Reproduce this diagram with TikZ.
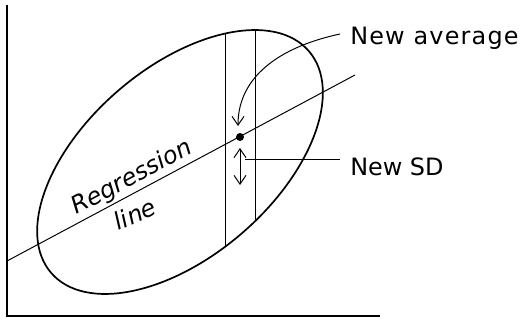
\documentclass[tikz,border=0pt]{standalone}
\usepackage{fontspec}
\setmainfont{DejaVu Sans}
\usetikzlibrary{arrows.meta}
\tikzset{
  handtext/.style={font=\fontsize{17}{20}\selectfont, inner sep=0pt},
  barb/.style={-{Straight Barb[length=2.2mm,width=3mm]}},
  twobarb/.style={{Straight Barb[length=2.2mm,width=3mm]}-{Straight Barb[length=2.2mm,width=3mm]}},
}
\begin{document}
\begin{tikzpicture}
  \useasboundingbox (0,0) rectangle (13.175,8.05);
  % axes
  \draw[line width=0.9pt] (0.175,7.925) -- (0.175,0.15) -- (9.5,0.15);
  % scatter cloud
  \draw[line width=1.2pt, rotate around={40.7:(4.5,4)}] (4.5,4) ellipse (4.25 and 2.36);
  \begin{scope}
    \clip[rotate around={40.7:(4.5,4)}] (4.5,4) ellipse (4.25 and 2.36);
    \draw[line width=0.6pt] (5.625,0) -- (5.625,8);
    \draw[line width=0.6pt] (6.375,0) -- (6.375,8);
  \end{scope}
  % regression line
  \draw[line width=0.7pt] (0.175,1.525) -- (8.875,6.175);
  \node[handtext, rotate=28, font=\fontsize{17}{20}\selectfont\itshape] (regword) at (3.3,3.6) {Regression};
  \node[handtext, rotate=24, font=\fontsize{17}{20}\selectfont\itshape] (lineword) at (3.375,2.7) {line};
  % new average and new SD
  \node[circle, fill, inner sep=0pt, minimum size=0.2cm] (avg) at (6.0,4.625) {};
  \node[handtext, anchor=west] (avglabel) at (8.75,7.1) {\addfontfeatures{LetterSpace=5}New average};
  \node[handtext, anchor=west] (sdlabel) at (8.75,3.875) {New SD};
  \coordinate (avgtip) at (5.95,4.9);
  \coordinate (sdtop) at (6.0,4.35);
  \coordinate (sdbot) at (6.0,3.425);
  \coordinate (sdfoot) at (6.125,4.075);
  \coordinate (sdend) at (8.5,4.075);
  \draw[barb, line width=0.7pt] ([shift={(-0.25,0.1)}]avglabel.west) to[out=192,in=90] (avgtip);
  \draw[twobarb, line width=0.7pt] (sdtop) -- (sdbot);
  \draw[line width=0.7pt] (sdfoot) -- (sdend);
\end{tikzpicture}
\end{document}
